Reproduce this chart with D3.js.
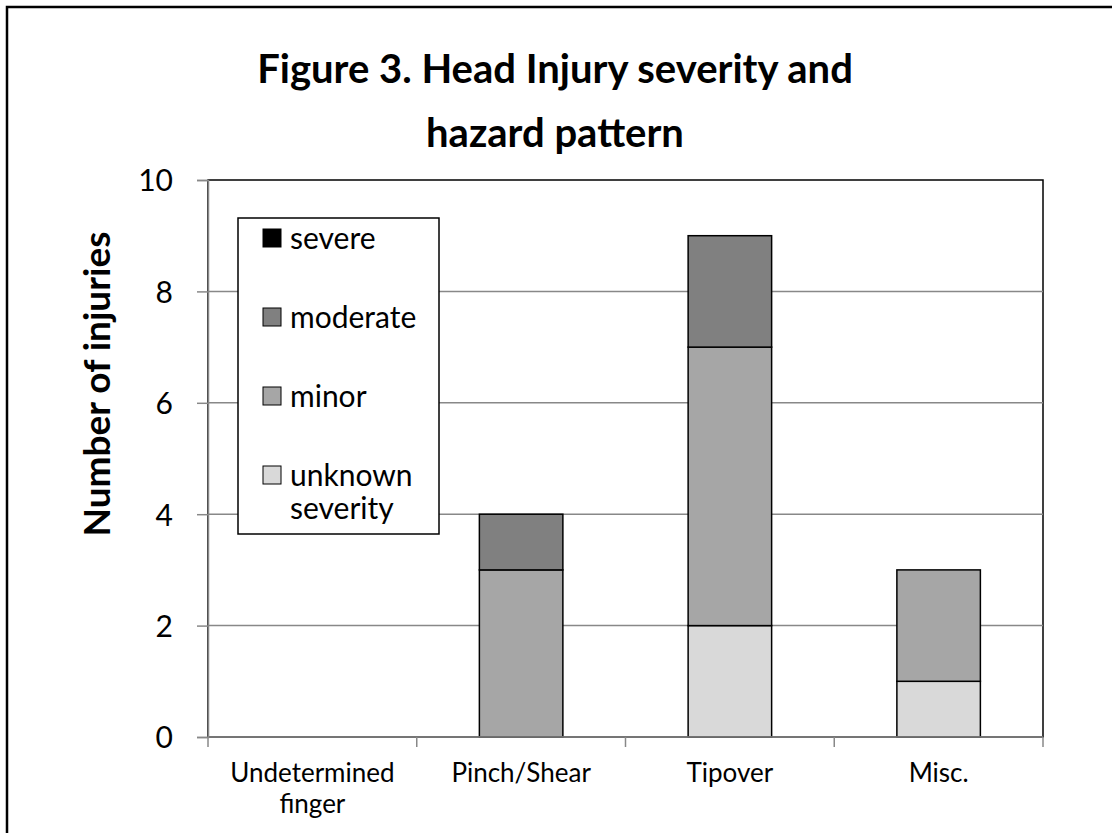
<!DOCTYPE html>
<html>
<head>
<meta charset="utf-8">
<script src="https://cdn.jsdelivr.net/npm/d3@7"></script>
<style>
  body { margin: 0; background: #fff; }
  svg text { font-family: Lato, "Open Sans", sans-serif; fill: #000; }
</style>
</head>
<body>
<svg id="chart" width="1112" height="833"></svg>
<script>
// chart data
const categories = ["Undetermined finger", "Pinch/Shear", "Tipover", "Misc."];
const severities = ["unknown severity", "minor", "moderate", "severe"];
const unknownSeverity = [0, 0, 2, 1];
const minor = [0, 3, 5, 2];
const moderate = [0, 1, 2, 0];
const severe = [0, 0, 0, 0];
const yTicks = [0, 2, 4, 6, 8, 10];
const titleLines = ["Figure 3. Head Injury severity and", "hazard pattern"];

const seriesValues = {
    "unknown severity": unknownSeverity,
    "minor": minor,
    "moderate": moderate,
    "severe": severe
};

const colors = {
    "severe": "#000000",
    "moderate": "#808080",
    "minor": "#a6a6a6",
    "unknown severity": "#d9d9d9"
};

const svg = d3.select("#chart");
const margin = {top: 180, right: 69, bottom: 96, left: 208};
const width = +svg.attr("width") - margin.left - margin.right;
const height = +svg.attr("height") - margin.top - margin.bottom;

// outer frame (right and bottom edges run off the picture)
svg.append("rect")
    .attr("x", 7).attr("y", 7)
    .attr("width", 1200).attr("height", 1000)
    .attr("fill", "none")
    .attr("stroke", "#000")
    .attr("stroke-width", 2.5);

// title
svg.append("text")
    .attr("text-anchor", "middle")
    .attr("font-weight", "bold")
    .attr("font-size", 40)
    .selectAll("tspan")
    .data(titleLines)
    .join("tspan")
    .attr("x", 555)
    .attr("y", (d, i) => 83 + i * 64)
    .text(d => d);

const g = svg.append("g").attr("transform", "translate(" + margin.left + "," + margin.top + ")");

const x = d3.scaleBand().domain(categories).range([0, width]).paddingInner(0.6).paddingOuter(0.3);
const y = d3.scaleLinear().domain([0, 10]).range([height, 0]);

// plot area border
g.append("rect")
    .attr("width", width)
    .attr("height", height)
    .attr("fill", "none")
    .attr("stroke", "#000")
    .attr("stroke-width", 1.5);

// gridlines
g.append("g")
    .selectAll("line")
    .data(yTicks.filter(t => t > 0 && t < 10))
    .join("line")
    .attr("x1", 0).attr("x2", width)
    .attr("y1", d => y(d)).attr("y2", d => y(d))
    .attr("stroke", "#888")
    .attr("stroke-width", 1.5);

// stacked bars
const table = categories.map((c, i) => {
    const row = {category: c};
    severities.forEach(s => row[s] = seriesValues[s][i]);
    return row;
});
const stacked = d3.stack().keys(severities)(table);

g.append("g")
    .selectAll("g")
    .data(stacked)
    .join("g")
    .attr("fill", d => colors[d.key])
    .selectAll("rect")
    .data(d => d.filter(p => p[1] - p[0] > 0))
    .join("rect")
    .attr("x", d => x(d.data.category))
    .attr("y", d => y(d[1]))
    .attr("width", x.bandwidth())
    .attr("height", d => y(d[0]) - y(d[1]))
    .attr("stroke", "#000")
    .attr("stroke-width", 1.5);

// y axis
const yAxis = g.append("g")
    .call(d3.axisLeft(y).tickValues(yTicks).tickSize(11).tickPadding(24));
yAxis.select(".domain").attr("stroke", "#888").attr("stroke-width", 1.5);
yAxis.selectAll(".tick line").attr("stroke", "#888").attr("stroke-width", 1.5);
yAxis.selectAll(".tick text")
    .attr("font-size", 30)
    .attr("font-family", "Lato, sans-serif")
    .attr("dy", "0.36em");

// x axis: ticks at category boundaries
const xAxis = g.append("g").attr("transform", "translate(0," + height + ")");
xAxis.append("line")
    .attr("x1", 0).attr("x2", width)
    .attr("stroke", "#888").attr("stroke-width", 1.5);
const step = x.step();
xAxis.selectAll(".bound")
    .data(d3.range(categories.length + 1))
    .join("line")
    .attr("class", "bound")
    .attr("x1", d => d * step).attr("x2", d => d * step)
    .attr("y1", 0).attr("y2", 10)
    .attr("stroke", "#888").attr("stroke-width", 1.5);

xAxis.selectAll(".cat")
    .data(categories)
    .join("text")
    .attr("class", "cat")
    .attr("text-anchor", "middle")
    .attr("font-size", 26)
    .attr("x", d => x(d) + x.bandwidth() / 2)
    .attr("y", 45)
    .each(function(d) {
        const words = d === "Undetermined finger" ? ["Undetermined", "finger"] : [d];
        d3.select(this).selectAll("tspan")
            .data(words)
            .join("tspan")
            .attr("x", x(d) + x.bandwidth() / 2)
            .attr("dy", (w, i) => i === 0 ? 0 : 31)
            .text(w => w);
    });

// y axis title
svg.append("text")
    .attr("transform", "translate(110," + 384 + ") rotate(-90)")
    .attr("text-anchor", "middle")
    .attr("font-weight", "bold")
    .attr("font-size", 37)
    .text("Number of injuries");

// legend
const legend = svg.append("g").attr("transform", "translate(238,218)");
legend.append("rect")
    .attr("width", 201)
    .attr("height", 316)
    .attr("fill", "#fff")
    .attr("stroke", "#000")
    .attr("stroke-width", 1.5);

const legendItems = legend.selectAll(".item")
    .data(severities.slice().reverse())
    .join("g")
    .attr("class", "item")
    .attr("transform", (d, i) => "translate(25," + (11 + i * 79) + ")");

legendItems.append("rect")
    .attr("width", 18)
    .attr("height", 18)
    .attr("fill", d => colors[d])
    .attr("stroke", "#000")
    .attr("stroke-width", 1);

legendItems.append("text")
    .attr("font-size", 30)
    .attr("x", 27)
    .attr("y", 9)
    .each(function(d) {
        const parts = d.split(" ");
        d3.select(this).selectAll("tspan")
            .data(parts)
            .join("tspan")
            .attr("x", 27)
            .attr("dy", (p, i) => i === 0 ? "0.36em" : 33)
            .text(p => p);
    });
</script>
</body>
</html>
